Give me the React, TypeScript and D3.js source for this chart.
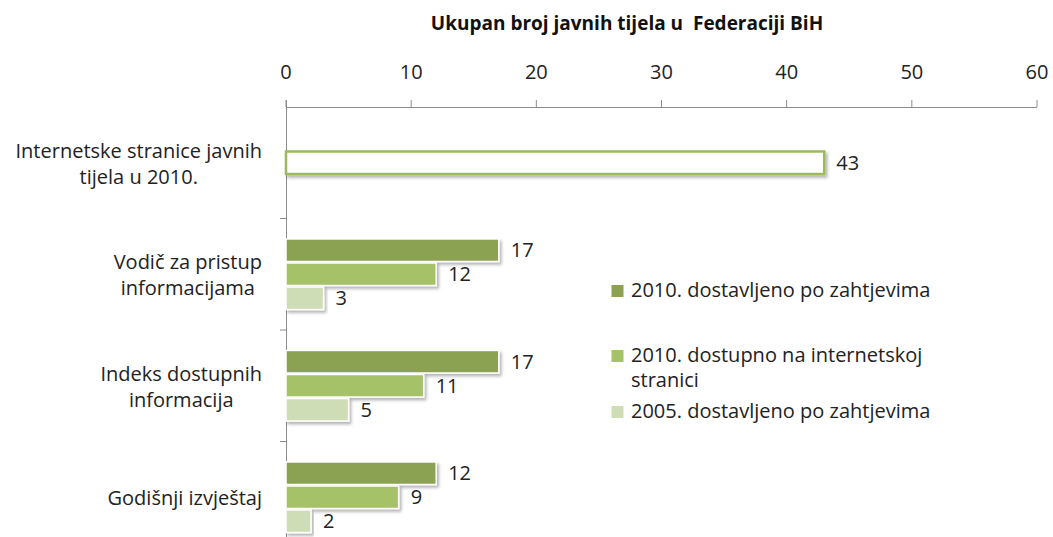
import React from "react";
import * as d3 from "d3";

const categories = ["c1", "c2", "c3", "c4"];
const categoryLines = [
  ["Internetske stranice javnih", "tijela u 2010."],
  ["Vodič za pristup", "informacijama"],
  ["Indeks dostupnih", "informacija"],
  ["Godišnji izvještaj"],
];
const seriesNames = [
  ["2010. dostavljeno po zahtjevima"],
  ["2010. dostupno na internetskoj", "stranici"],
  ["2005. dostavljeno po zahtjevima"],
];
const delivered2010: (number | null)[] = [null, 17, 17, 12];
const online2010: (number | null)[] = [43, 12, 11, 9];
const delivered2005: (number | null)[] = [null, 3, 5, 2];
const seriesValues = [delivered2010, online2010, delivered2005];
const xTicks = [0, 10, 20, 30, 40, 50, 60];
const title = "Ukupan broj javnih tijela u  Federaciji BiH";

const colors = ["#8CA252", "#A6C268", "#CFDDB7"];
const FONT = "'Open Sans', sans-serif";

function measure(text: string, size: number) {
  const c = document.createElement("canvas").getContext("2d")!;
  c.font = `${size}px 'Open Sans'`;
  return c.measureText(text).width;
}

export default function App() {
  const W = 1053, H = 537;
  const x = d3.scaleLinear().domain([0, 60]).range([286, 1037]);
  const y = d3.scaleBand<string>().domain(categories).range([107, 553]).padding(0);
  const inner = d3
    .scaleBand<number>()
    .domain([0, 1, 2])
    .range([0, y.bandwidth()])
    .paddingInner(0)
    .paddingOuter(0.82);
  const fs = 20;
  const labelRight = 262;
  const lh = 26;

  return (
    <svg width={W} height={H} style={{ position: "absolute", left: 0, top: 0, background: "#fff" }} fontFamily={FONT}>
      <defs>
        <filter id="sh" x="-5%" y="-20%" width="115%" height="160%">
          <feDropShadow dx="2" dy="2.5" stdDeviation="1.5" floodColor="#000" floodOpacity="0.3" />
        </filter>
      </defs>
      <text x={627} y={30} textAnchor="middle" fontSize={19} fontWeight="bold" fill="#111" style={{ whiteSpace: "pre" }}>{title}</text>
      {xTicks.map((t) => (
        <g key={t}>
          <text x={x(t)} y={79} textAnchor="middle" fontSize={fs} fill="#222">{t}</text>
          <line x1={x(t)} x2={x(t)} y1={100} y2={107} stroke="#8c8c8c" />
        </g>
      ))}
      <line x1={x(0)} x2={x(60)} y1={107.5} y2={107.5} stroke="#8c8c8c" />
      <line x1={x(0) + 0.5} x2={x(0) + 0.5} y1={100} y2={H} stroke="#8c8c8c" />
      {categories.map((c) => (
        <line key={c} x1={280} x2={286} y1={(y(c) as number) + y.bandwidth()} y2={(y(c) as number) + y.bandwidth()} stroke="#8c8c8c" />
      ))}
      {categories.map((c, i) => {
        const lines = categoryLines[i];
        const maxW = Math.max(...lines.map((l) => measure(l, fs)));
        const cx = labelRight - maxW / 2;
        const center = (y(c) as number) + y.bandwidth() / 2;
        const start = center - ((lines.length - 1) * lh) / 2 + 8;
        return (
          <g key={c}>
            {lines.map((l, j) => (
              <text key={j} x={cx} y={start + j * lh} textAnchor="middle" fontSize={fs} fill="#222">{l}</text>
            ))}
          </g>
        );
      })}
      {seriesValues.map((vals, s) =>
        vals.map((v, i) => {
          if (v == null) return null;
          const by = (y(categories[i]) as number) + (inner(s) as number);
          const bh = inner.bandwidth();
          const special = i === 0;
          return (
            <g key={`${s}-${i}`}>
              <rect
                x={x(0)}
                y={by + 0.75}
                width={x(v) - x(0)}
                height={bh - 1.5}
                fill={special ? "#fff" : colors[s]}
                stroke={special ? "#9BBB59" : "#fff"}
                strokeWidth={special ? 2.5 : 1.5}
                filter="url(#sh)"
              />
              <text x={x(v) + 12} y={by + bh / 2 + 7} fontSize={fs} fill="#222">{v}</text>
            </g>
          );
        })
      )}
      {[297, 362, 418].map((ly, s) => (
        <g key={s}>
          <rect x={611.5} y={ly - 12} width={12} height={12} fill={colors[s]} />
          {seriesNames[s].map((t, j) => (
            <text key={j} x={631} y={ly + j * 25} fontSize={fs} fill="#222">{t}</text>
          ))}
        </g>
      ))}
    </svg>
  );
}
